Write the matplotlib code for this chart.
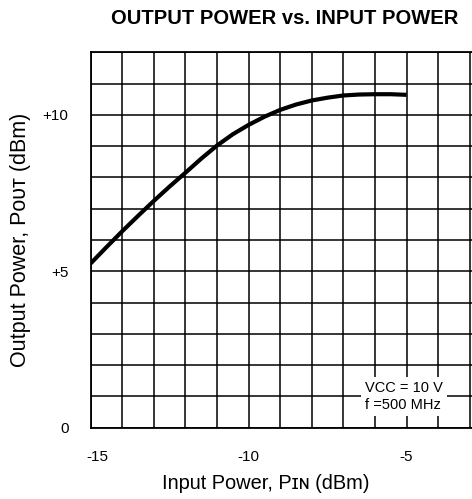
"""Output power vs input power curve (RF amplifier datasheet)"""
import matplotlib
matplotlib.use('Agg')
import matplotlib.pyplot as plt
import matplotlib.transforms as mtrans

plt.rcParams['font.family'] = ['Liberation Sans', 'DejaVu Sans']

# curve (every 0.5 dBm)
p_in = [-15, -14.5, -14, -13.5, -13, -12.5, -12, -11.5, -11, -10.5, -10,
        -9.5, -9, -8.5, -8, -7.5, -7, -6.5, -6, -5.5, -5]
p_out = [5.25, 5.77, 6.28, 6.77, 7.25, 7.71, 8.15, 8.6, 9.02, 9.38, 9.68,
         9.94, 10.16, 10.33, 10.46, 10.55, 10.62, 10.65, 10.66, 10.66, 10.64]

x_ticks = [-15, -10, -5]
x_tick_labels = ['-15', '-10', '-5']
y_ticks = [0, 5, 10]
y_tick_labels = ['0', '+5', '+10']

fig = plt.figure(figsize=(4.72, 4.99), dpi=100)
ax = fig.add_axes([0.192, 0.1429, 0.8703, 0.7523])

ax.plot(p_in, p_out, color='black', linewidth=3, solid_capstyle='butt',
        solid_joinstyle='round', zorder=3)

ax.set_xlim(-15, -2)
ax.set_ylim(0, 12)
ax.set_xticks(range(-15, -1))
ax.set_xticklabels([x_tick_labels[x_ticks.index(v)] if v in x_ticks else '' for v in range(-15, -1)])
ax.set_yticks(range(0, 13))
ax.set_yticklabels([y_tick_labels[y_ticks.index(v)] if v in y_ticks else '' for v in range(0, 13)])
ax.tick_params(length=0, labelsize=11, pad=16)
ax.grid(True, color='black', linewidth=1.1)
ax.set_axisbelow(True)
for sp in ax.spines.values():
    sp.set_linewidth(1.3)

# -15 label sits a bit to the right in the original
lbl = ax.get_xticklabels()[0]
lbl.set_transform(lbl.get_transform() + mtrans.ScaledTranslation(7 / 100, 0, fig.dpi_scale_trans))

ax.set_xlabel('Input Power, P\u026a\u0274 (dBm)', fontsize=14.4)
ax.xaxis.set_label_coords(0.4267, -0.124)
ax.set_ylabel('Output Power, P\u1d0f\u1d1c\u1d1b (dBm)', fontsize=15.5, labelpad=8)

ax.text(-6.32, 1.0, 'VCC = 10 V\nf =500 MHz', ha='left', va='center', fontsize=10.5,
        linespacing=1.3, zorder=4,
        bbox={'facecolor': 'white', 'edgecolor': 'none', 'pad': 3})

fig.text(0.604, 0.963, 'OUTPUT POWER vs. INPUT POWER', ha='center', va='center',
         fontsize=14.5, fontweight='bold')

fig.savefig('out.png', dpi=100)
